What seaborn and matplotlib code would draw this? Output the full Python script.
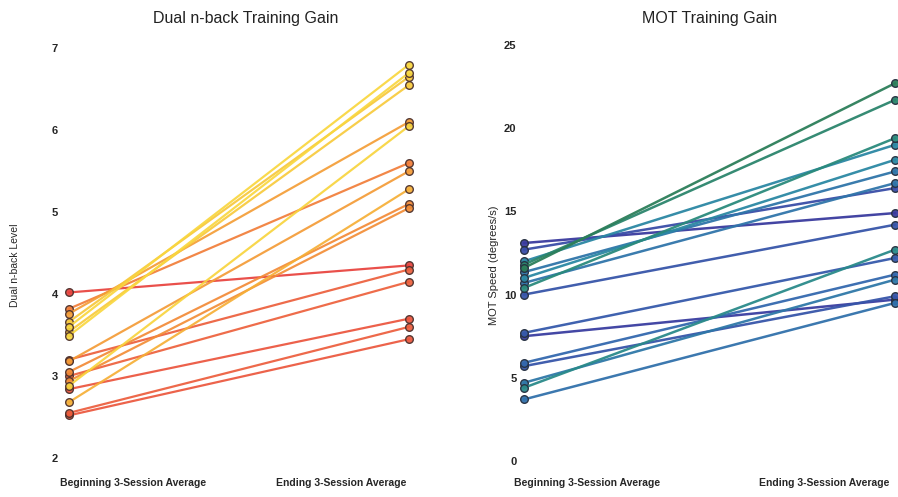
import matplotlib
matplotlib.use("Agg")
import matplotlib.pyplot as plt
import seaborn as sns
import pandas as pd
from matplotlib.colors import LinearSegmentedColormap

# Dual n-back level per subject (beginning / ending 3-session averages)
nback_begin = [4.02, 3.82, 3.76, 3.66, 3.60, 3.54, 3.49, 3.20, 3.18,
               3.05, 3.00, 2.94, 2.88, 2.84, 2.68, 2.55, 2.52]
nback_end = [4.35, 5.60, 6.10, 6.65, 6.80, 6.55, 6.70, 4.30, 5.50,
             5.10, 4.15, 5.05, 6.05, 3.70, 5.28, 3.60, 3.45]

# MOT speed (degrees/s) per subject
mot_begin = [11.6, 11.8, 10.4, 12.0, 11.0, 11.35, 10.7, 12.7, 13.1,
             10.0, 4.4, 7.7, 5.9, 4.7, 5.7, 7.5, 3.7]
mot_end = [22.7, 21.7, 19.4, 19.0, 18.1, 17.4, 16.7, 16.4, 14.9,
           14.2, 12.7, 12.2, 11.2, 10.9, 9.9, 9.7, 9.5]

session_labels = ["Beginning 3-Session Average", "Ending 3-Session Average"]


def to_long(begin, end):
    rows = []
    for i, (b, e) in enumerate(zip(begin, end)):
        rows.append({"subject": i, "session": 0, "value": b, "gain": e - b})
        rows.append({"subject": i, "session": 1, "value": e, "gain": e - b})
    return pd.DataFrame(rows)


sns.set_style("white")
plt.rcParams["font.family"] = ["Liberation Sans", "DejaVu Sans"]

warm = LinearSegmentedColormap.from_list(
    "warm", ["#e8403c", "#eb553c", "#ef703a", "#f38c36", "#f6b536", "#f9dc40"])
cool = LinearSegmentedColormap.from_list(
    "cool", ["#3a399c", "#3a48a6", "#3368ae", "#2a8aa2", "#2a8a7a", "#2c7e5a"])

fig = plt.figure(figsize=(8.98, 4.97), dpi=100)
W, H = 898, 497
ax1 = fig.add_axes([62 / W, 1 - 470 / H, 368 / W, 430 / H])
ax2 = fig.add_axes([515 / W, 1 - 470 / H, 390 / W, 430 / H])

df1 = to_long(nback_begin, nback_end)
df2 = to_long(mot_begin, mot_end)

sns.lineplot(data=df1, x="session", y="value", units="subject", estimator=None,
             hue="gain", palette=warm, hue_norm=(0.3, 3.3), legend=False,
             marker="o", markersize=5.5, markeredgecolor="#4a2e2a",
             markeredgewidth=1.0, linewidth=1.6, alpha=0.92, ax=ax1)
sns.lineplot(data=df2, x="session", y="value", units="subject", estimator=None,
             hue="gain", palette=cool, hue_norm=(1.5, 11), legend=False,
             marker="o", markersize=5.5, markeredgecolor="#263040",
             markeredgewidth=1.0, linewidth=1.8, alpha=0.95, ax=ax2)

ax1.set_xlim(-0.02, 1.062)
ax1.set_ylim(1.854, 7.1)
ax1.set_yticks([2, 3, 4, 5, 6, 7])
ax1.set_xticks([0.19, 0.80])
ax1.set_xticklabels(session_labels)
ax1.set_ylabel("Dual n-back Level", fontsize=7.5)
ax1.yaxis.set_label_coords(-0.114, 0.477)
ax1.set_xlabel("")
ax1.set_title("Dual n-back Training Gain", fontsize=11.5, pad=12, color="#222222")

ax2.set_xlim(-0.024, 1.027)
ax2.set_ylim(-0.54, 25.3)
ax2.set_yticks([0, 5, 10, 15, 20, 25])
ax2.set_xticks([0.17, 0.81])
ax2.set_xticklabels(session_labels)
ax2.set_ylabel("MOT Speed (degrees/s)", fontsize=8)
ax2.yaxis.set_label_coords(-0.04, 0.477)
ax2.set_xlabel("")
ax2.set_title("MOT Training Gain", fontsize=11.5, pad=12, color="#222222")

for ax, ypad in ((ax1, 3), (ax2, -1)):
    sns.despine(ax=ax, left=True, bottom=True)
    ax.tick_params(axis="both", length=0)
    ax.tick_params(axis="y", labelsize=8, pad=ypad)
    ax.tick_params(axis="x", labelsize=7.5, pad=6)
    for t in ax.get_xticklabels() + ax.get_yticklabels():
        t.set_fontweight("bold")

fig.savefig("out.png", dpi=100)
